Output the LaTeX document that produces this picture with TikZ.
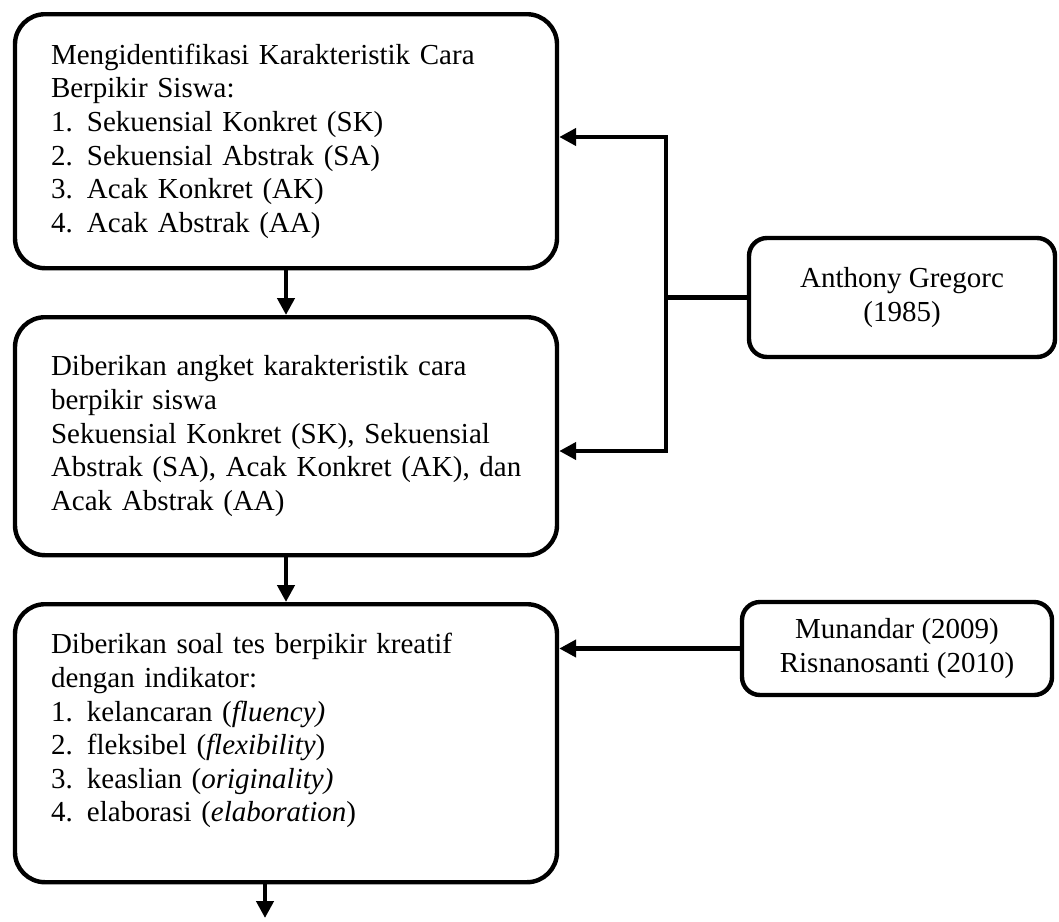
\documentclass[tikz,border=0pt]{standalone}
\usepackage{fontspec}
\setmainfont{Liberation Serif}
\usetikzlibrary{positioning,arrows.meta}
\newcommand{\nr}[1]{\makebox[18pt][l]{#1}}

\begin{document}
\begin{tikzpicture}[
  node distance=22.3pt,
  stage/.style={draw, line width=2.2pt, rounded corners=15pt, align=left,
                text width=235pt, inner xsep=18pt, anchor=north,
                font=\fontsize{14.5}{16.8}\selectfont},
  src/.style={draw, line width=2.2pt, rounded corners=9pt, align=center,
              font=\fontsize{14.5}{16.8}\selectfont},
  arr/.style={-{Triangle[length=8.5pt,width=8.5pt]}, line width=2.2pt}]
\useasboundingbox (0,0) rectangle (529.5pt,-460.5pt);
% main stages
\node[stage, minimum height=127pt] (ident) at (143pt,-6pt)
  {Mengidentifikasi Karakteristik Cara\\Berpikir Siswa:\\
   \nr{1.}Sekuensial Konkret (SK)\\\nr{2.}Sekuensial Abstrak (SA)\\
   \nr{3.}Acak Konkret (AK)\\\nr{4.}Acak Abstrak (AA)};
\node[stage, minimum height=119pt, below=of ident] (angket)
  {Diberikan angket karakteristik cara\\berpikir siswa\\
   Sekuensial Konkret (SK), Sekuensial\\\mbox{Abstrak (SA), Acak Konkret (AK), dan}\\
   Acak Abstrak (AA)};
\node[stage, minimum height=139pt, below=of angket] (tes)
  {Diberikan soal tes berpikir kreatif\\dengan indikator:\\
   \nr{1.}kelancaran (\textit{fluency)}\\\nr{2.}fleksibel (\textit{flexibility})\\
   \nr{3.}keaslian (\textit{originality)}\\\nr{4.}elaborasi (\textit{elaboration})\\[-1.3pt]\mbox{}};
\draw[arr] (ident) -- (angket);
\draw[arr] (angket) -- (tes);
\coordinate (out) at (132.5pt,-459pt);
\draw[arr] (tes.south -| out) -- (out);
% sources
\node[src, minimum width=153pt, minimum height=59.5pt] (greg) at (451pt,-148.75pt)
  {Anthony Gregorc\\(1985)};
\node[src, minimum width=155pt, minimum height=46.5pt] (muna) at (448.5pt,-324.25pt)
  {Munandar (2009)\\Risnanosanti (2010)};
\coordinate (jt) at (333pt,-68.5pt);
\coordinate (jb) at (333pt,-225.5pt);
\draw[line width=2.2pt] (greg.west) -- (greg.west -| jt);
\draw[line width=2.2pt, line cap=rect] (jt) -- (jb);
\draw[arr] (jt) -- (jt -| ident.east);
\draw[arr] (jb) -- (jb -| angket.east);
\draw[arr] (muna.west) -- (muna.west -| tes.east);
\end{tikzpicture}
\end{document}
